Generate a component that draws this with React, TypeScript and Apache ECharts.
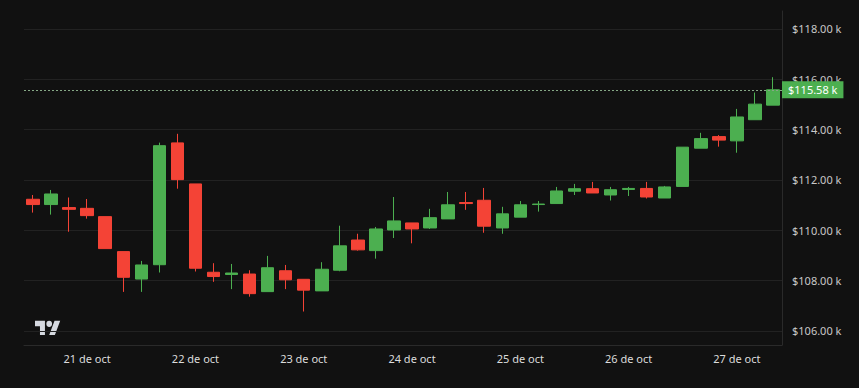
import { useEffect, useRef } from 'react';
import * as echarts from 'echarts';

// Candles: 4-hour bars starting 20 oct 12:00
const opens = [
  111.23, 111.02, 110.90, 110.87, 110.54, 109.15, 108.06, 108.63, 113.47, 111.84,
  108.33, 108.24, 108.26, 107.56, 108.39, 108.05, 107.59, 108.41, 109.61, 109.19,
  110.01, 110.29, 110.09, 110.45, 111.10, 111.19, 110.09, 110.52, 111.02, 111.06,
  111.55, 111.65, 111.40, 111.62, 111.66, 111.28, 111.74, 113.26, 113.72, 113.55,
  114.39, 114.97,
];
const closes = [
  111.02, 111.44, 110.83, 110.58, 109.27, 108.13, 108.62, 113.36, 112.01, 108.49,
  108.16, 108.30, 107.48, 108.51, 108.03, 107.62, 108.45, 109.38, 109.22, 110.05,
  110.37, 110.05, 110.50, 111.01, 111.06, 110.16, 110.65, 111.01, 111.04, 111.56,
  111.65, 111.48, 111.61, 111.66, 111.32, 111.72, 113.30, 113.64, 113.58, 114.50,
  115.01, 115.58,
];
const lows = [
  110.70, 110.62, 109.94, 110.46, 109.27, 107.55, 107.55, 108.32, 111.65, 108.36,
  107.95, 107.66, 107.36, 107.56, 107.66, 106.77, 107.59, 108.37, 109.19, 108.87,
  109.69, 109.48, 110.05, 110.45, 110.81, 109.90, 109.86, 110.52, 110.74, 111.06,
  111.40, 111.48, 111.18, 111.36, 111.26, 111.28, 111.74, 113.26, 113.32, 113.08,
  114.39, 114.97,
];
const highs = [
  111.40, 111.60, 111.30, 111.24, 110.54, 109.15, 108.78, 113.48, 113.83, 111.84,
  108.69, 108.66, 108.41, 108.98, 108.62, 108.05, 108.73, 110.18, 109.86, 110.13,
  111.32, 110.29, 110.85, 111.52, 111.52, 111.68, 110.93, 111.16, 111.16, 111.72,
  111.84, 111.92, 111.72, 111.72, 111.92, 111.76, 113.30, 113.87, 113.78, 114.82,
  115.47, 116.08,
];
const dayLabels = ['21 de oct', '22 de oct', '23 de oct', '24 de oct', '25 de oct', '26 de oct', '27 de oct'];

const categories = opens.map((_, i) => {
  const total = 12 + 4 * i;
  const day = 20 + Math.floor(total / 24);
  const hour = total % 24;
  return `${day} oct ${String(hour).padStart(2, '0')}:00`;
});

const GREEN = '#4caf50';
const RED = '#f44336';

echarts.graphic.registerShape(
  'logo',
  echarts.graphic.extendPath(
    'M14 22H7V11H0V4h14v18zM28 22h-8l7.5-18h8L28 22zM24 8a4 4 0 1 1-8 0a4 4 0 0 1 8 0z',
    {}
  )
);

export default function App() {
  const ref = useRef<HTMLDivElement>(null);
  useEffect(() => {
    if (!ref.current) return;
    const chart = echarts.init(ref.current, null, { renderer: 'svg' });
    const last = closes[closes.length - 1];
    const data = opens.map((o, i) => [o, closes[i], lows[i], highs[i]]);
    chart.setOption({
      animation: false,
      backgroundColor: '#111111',
      textStyle: { fontFamily: 'Noto Sans' },
      grid: { left: 24, right: 77, top: 11, bottom: 43 },
      xAxis: {
        type: 'category',
        data: categories,
        boundaryGap: true,
        axisLine: { show: true, lineStyle: { color: '#2a2a2a' } },
        axisTick: { show: false },
        splitLine: { show: false },
        axisLabel: {
          interval: (index: number) => index % 6 === 3,
          formatter: (_v: string, index: number) =>
            index % 6 === 3 ? dayLabels[(index - 3) / 6] : '',
          color: '#dcdcdc',
          fontSize: 11,
          margin: 8,
        },
      },
      yAxis: {
        type: 'value',
        position: 'right',
        min: 105.44,
        max: 118.71,
        splitNumber: 7,
        minInterval: 2,
        maxInterval: 2,
        scale: true,
        axisLine: { show: true, lineStyle: { color: '#2a2a2a' } },
        axisTick: { show: false },
        splitLine: {
          show: true,
          showMinLine: false,
          showMaxLine: false,
          lineStyle: { color: '#222222', width: 1 },
        },
        axisLabel: {
          showMinLabel: false,
          showMaxLabel: false,
          color: '#c8c8c8',
          fontSize: 11,
          margin: 10,
          formatter: (v: number) =>
            Math.abs(v / 2 - Math.round(v / 2)) < 1e-6 ? `$${v.toFixed(2)} k` : '',
        },
      },
      series: [
        {
          type: 'candlestick',
          data,
          barWidth: 13,
          itemStyle: {
            color: GREEN,
            color0: RED,
            borderColor: GREEN,
            borderColor0: RED,
            borderWidth: 1,
          },
          markLine: {
            silent: true,
            symbol: ['none', 'none'],
            lineStyle: { color: '#86a886', type: [2, 2], width: 1 },
            label: {
              show: true,
              position: 'end',
              distance: 0,
              formatter: () => `$${last.toFixed(2)} k`,
              backgroundColor: GREEN,
              color: '#ffffff',
              fontSize: 11,
              padding: [2, 6, 2, 6],
              lineHeight: 13,
            },
            data: [{ yAxis: last }],
          },
        },
      ],
      graphic: [
        {
          type: 'logo',
          x: 35,
          y: 320.7 - 4 * 0.79,
          scaleX: 0.71,
          scaleY: 0.79,
          shape: {},
          style: { fill: '#d6d9e0' },
          silent: true,
        },
      ],
    });
    return () => chart.dispose();
  }, []);
  return (
    <div
      ref={ref}
      style={{ position: 'fixed', left: 0, top: 0, width: 859, height: 388, background: '#111111' }}
    />
  );
}
